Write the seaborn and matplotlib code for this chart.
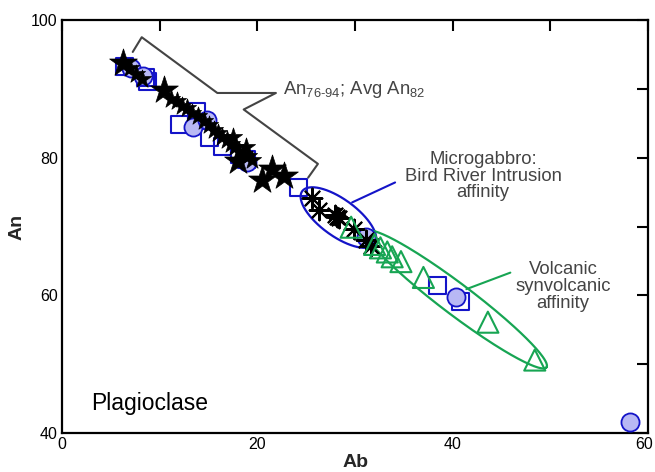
import matplotlib
matplotlib.use("Agg")
import matplotlib.pyplot as plt
import matplotlib.transforms as mtransforms
import numpy as np
import seaborn as sns

# --- données (Ab, An) ---
star_big_ab = [6.2, 10.4, 18.0, 20.5, 21.5, 22.7]
star_big_an = [93.8, 89.8, 79.5, 76.8, 78.3, 77.3]

star_small_ab = [7.0, 7.6, 8.2, 11.2, 11.8, 12.3, 12.8, 13.3, 13.9, 14.5, 15.0, 15.6,
                 16.0, 16.4, 16.9, 17.3, 17.7, 18.1, 18.5, 19.0, 19.4, 18.8, 17.5]
star_small_an = [93.0, 92.2, 91.5, 88.5, 88.2, 87.5, 87.2, 86.5, 86.0, 85.3, 84.7, 84.0,
                 83.6, 83.0, 82.6, 82.0, 81.5, 81.0, 80.6, 80.2, 79.6, 81.6, 83.0]

square_ab = [6.4, 8.5, 8.8, 12.0, 13.8, 15.1, 16.4, 18.2, 18.9, 24.2, 38.4, 40.8]
square_an = [93.2, 91.6, 91.0, 84.8, 86.7, 83.0, 81.6, 80.4, 79.7, 75.6, 61.4, 59.1]

circle_ab = [7.1, 8.3, 13.4, 14.8, 18.9, 31.1, 40.3, 58.2]
circle_an = [93.0, 91.8, 84.5, 85.5, 79.3, 68.5, 59.7, 41.6]

aster_ab = [25.6, 26.3, 27.9, 28.2, 28.4, 29.9, 31.1, 31.6]
aster_an = [74.2, 72.4, 71.7, 71.4, 71.3, 69.7, 68.0, 67.1]

tri_ab = [29.6, 32.0, 32.6, 33.3, 33.8, 34.7, 37.0, 43.6, 48.4]
tri_an = [69.9, 67.4, 66.9, 66.3, 65.6, 64.9, 62.6, 56.1, 50.6]

# crochet gris autour des plagioclases An76-94
bracket_ab = [7.24, 8.16, 15.9, 21.9, 18.6, 26.2, 25.2]
bracket_an = [95.36, 97.5, 89.4, 89.4, 87.0, 79.1, 77.1]

BLUE = '#1414c8'
LIGHT = '#b8b8f4'
GREEN = '#17a553'
GREY = '#444444'

sns.set_style('white')
plt.rcParams['font.family'] = ['Liberation Sans', 'DejaVu Sans']
plt.rcParams['mathtext.fontset'] = 'custom'
plt.rcParams['mathtext.rm'] = 'Liberation Sans'

fig = plt.figure(figsize=(6.55, 4.72), dpi=100)
ax = fig.add_axes([0.0947, 0.0826, 0.8947, 0.875])


def ellipse(ax, centre, u, v, color):
    # ellipse définie par son centre et ses deux demi-axes (en unités de données)
    t = np.linspace(0, 2 * np.pi, 200)
    xs = centre[0] + u[0] * np.cos(t) + v[0] * np.sin(t)
    ys = centre[1] + u[1] * np.cos(t) + v[1] * np.sin(t)
    ax.plot(xs, ys, color=color, lw=1.6, zorder=2)


ellipse(ax, (28.3, 71.3), (3.71, -3.83), (1.11, 2.17), BLUE)
ellipse(ax, (40.4, 59.4), (9.2, -9.86), (0.95, 1.8), GREEN)

ax.plot(bracket_ab, bracket_an, color=GREY, lw=1.5, zorder=2)
ax.plot([29.7, 34.1], [73.5, 76.4], color=BLUE, lw=1.5, zorder=2)
ax.plot([41.4, 45.9], [60.9, 63.3], color=GREEN, lw=1.5, zorder=2)

sns.scatterplot(x=square_ab, y=square_an, marker='s', s=150, facecolors='none',
                edgecolors=BLUE, linewidth=1.5, ax=ax, zorder=3)
sns.scatterplot(x=circle_ab, y=circle_an, marker='o', s=170, facecolors=LIGHT,
                edgecolors=BLUE, linewidth=1.3, ax=ax, zorder=3)
sns.scatterplot(x=star_small_ab, y=star_small_an, marker='*', s=190, color='black',
                edgecolor='black', linewidth=0.5, ax=ax, zorder=4)
sns.scatterplot(x=star_big_ab, y=star_big_an, marker='*', s=440, color='black',
                edgecolor='black', linewidth=0.5, ax=ax, zorder=4)
sns.scatterplot(x=aster_ab, y=aster_an, marker=(8, 2, 0), s=200, color='black',
                linewidth=1.5, ax=ax, zorder=4)
sns.scatterplot(x=tri_ab, y=tri_an, marker='^', s=230, facecolors='none',
                edgecolors=GREEN, linewidth=1.5, ax=ax, zorder=4)

# textes
ax.text(22.6, 89.3, r'An$_{\text{76-94}}$; Avg An$_{\text{82}}$', color=GREY,
        fontsize=13.3, ha='left', va='baseline')
ax.text(43.1, 77.3, 'Microgabbro:\nBird River Intrusion\naffinity', color=GREY,
        fontsize=13.3, ha='center', va='center', linespacing=0.97)
ax.text(51.3, 61.3, 'Volcanic\nsynvolcanic\naffinity', color=GREY,
        fontsize=13.3, ha='center', va='center', linespacing=0.97)
ax.text(3.0, 44.3, 'Plagioclase', color='black', fontsize=16.5, ha='left', va='center')

ax.set_xlim(0, 60)
ax.set_ylim(40, 100)
ax.set_xticks([0, 20, 40, 60])
ax.set_xticks([10, 30, 50], minor=True)
ax.set_yticks([40, 60, 80, 100])
ax.set_yticks([50, 70, 90], minor=True)
ax.tick_params(which='both', direction='in', length=8, width=1.5, top=True, right=True,
               labelsize=11.5, pad=3, colors='black')
for sp in ax.spines.values():
    sp.set_linewidth(1.6)
    sp.set_color('black')
    sp.set_visible(True)

# le « 60 » est un peu décalé vers la gauche, comme sur l'original
last = ax.get_xticklabels()[-1]
last.set_transform(last.get_transform() +
                   mtransforms.ScaledTranslation(-4 / 100, 0, fig.dpi_scale_trans))

ax.set_xlabel('Ab', fontsize=14, fontweight='bold', labelpad=1)
ax.set_ylabel('An', fontsize=14, fontweight='bold', labelpad=4)

plt.savefig('out.png', dpi=100)
